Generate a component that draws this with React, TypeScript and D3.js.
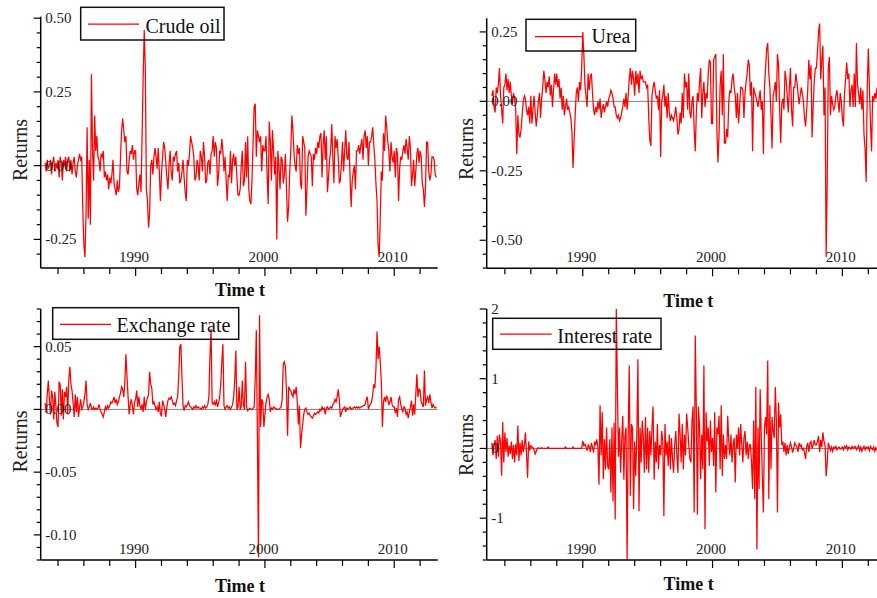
import React from 'react';
import * as d3 from 'd3';

// Monthly returns, January 1983 onwards (one row per year)
const crudeOil = [
  0.01, -0.02, 0.02, -0.01, 0.0, 0.02, -0.03, 0.01, 0.03, -0.02, 0.01, -0.01,
  0.02, -0.04, 0.03, 0.01, -0.05, 0.02, 0.0, 0.03, -0.02, 0.02, 0.03, -0.02,
  0.02, -0.03, 0.01, 0.03, -0.02, -0.04, 0.0, 0.02, 0.04, 0.02, 0.03, -0.15,
  -0.27, -0.31, -0.16, 0.13, -0.18, 0.02, -0.2, 0.31, 0.06, -0.05, 0.17, 0.05,
  0.10, 0.03, 0.02, -0.02, 0.04, 0.03, 0.05, -0.04, -0.02, -0.05, -0.03, -0.08,
  -0.04, -0.06, -0.03, 0.02, -0.06, -0.08, -0.1, -0.05, -0.09, -0.07, 0.03, 0.12,
  0.16, 0.12, 0.08, 0.1, -0.02, -0.03, 0.02, 0.05, 0.04, 0.07, 0.02, 0.05,
  0.05, -0.08, -0.1, -0.06, -0.03, -0.09, 0.1, 0.30, 0.46, 0.33, -0.08, -0.12,
  -0.21, -0.16, 0.0, 0.02, -0.03, 0.03, 0.06, 0.03, -0.01, 0.06, -0.02, -0.12,
  -0.03, 0.03, 0.08, 0.06, 0.01, -0.04, -0.08, 0.0, 0.05, -0.02, -0.05, 0.03,
  0.02, 0.04, 0.05, -0.02, 0.01, -0.06, -0.05, -0.02, 0.02, -0.04, -0.09, -0.12,
  0.02, 0.0, 0.04, 0.1, 0.08, 0.06, 0.03, -0.05, -0.04, 0.02, 0.0, -0.05,
  0.05, 0.03, -0.02, 0.08, 0.03, -0.06, -0.05, 0.01, 0.02, -0.03, 0.04, 0.05,
  0.1, 0.03, 0.08, 0.06, -0.07, -0.03, 0.05, 0.04, 0.09, 0.05, -0.02, 0.03,
  -0.05, -0.12, -0.03, -0.04, 0.05, -0.06, 0.02, 0.04, 0.0, 0.03, -0.04, -0.1,
  -0.1, -0.08, 0.0, 0.05, -0.07, -0.05, 0.08, -0.04, 0.1, -0.08, -0.12, -0.13,
  -0.05, 0.08, 0.2, 0.21, 0.03, 0.12, 0.1, 0.08, 0.1, -0.02, 0.07, 0.05,
  0.05, 0.1, -0.03, -0.13, 0.15, 0.08, -0.05, 0.12, 0.05, -0.03, 0.03, -0.25,
  0.05, 0.0, -0.08, 0.03, 0.02, -0.06, -0.03, 0.04, -0.08, -0.19, -0.14, -0.02,
  0.05, 0.17, 0.12, 0.04, 0.0, -0.02, 0.07, 0.04, 0.06, -0.06, -0.08, 0.1,
  0.08, 0.06, -0.17, -0.08, 0.03, 0.05, 0.04, 0.03, -0.07, 0.04, 0.02, 0.06,
  0.04, 0.08, 0.06, 0.1, 0.11, -0.04, 0.07, 0.12, 0.02, 0.1, -0.09, -0.04,
  0.02, 0.05, 0.14, 0.03, -0.06, 0.1, 0.06, 0.09, 0.03, -0.06, -0.05, 0.01,
  0.08, -0.02, 0.05, 0.12, 0.03, 0.02, 0.08, -0.04, -0.14, -0.05, -0.02, 0.0,
  -0.08, 0.05, 0.05, 0.07, 0.04, 0.07, 0.09, 0.02, 0.1, 0.12, 0.06, 0.1,
  0.0, 0.08, 0.08, 0.1, 0.13, 0.07, 0.02, -0.06, -0.12, -0.27, -0.31, -0.18,
  -0.02, -0.05, 0.11, 0.05, 0.17, 0.13, 0.08, 0.05, -0.02, 0.08, 0.03, 0.01,
  0.05, -0.04, 0.06, 0.04, -0.12, -0.01, 0.03, 0.02, 0.05, 0.07, 0.04, 0.09,
  0.06, 0.02, 0.1, 0.06, -0.07, -0.03, 0.02, -0.07, -0.02, 0.04, 0.06, 0.01,
  0.05, 0.03, -0.06, -0.08, -0.14, -0.07, 0.08, 0.08, -0.02, -0.05, -0.03, 0.03,
  0.03, 0.02, -0.03, -0.04,
];

const urea = [
  0.02, 0.04, -0.02, -0.04, 0.05, 0.03, 0.06, 0.12, 0.02, -0.03, -0.08, 0.05,
  0.06, 0.1, 0.04, 0.08, 0.03, 0.07, 0.02, -0.01, 0.03, 0.01, -0.03, -0.19,
  -0.05, -0.12, -0.13, -0.1, -0.05, 0.0, 0.02, 0.01, -0.03, -0.05, -0.02, -0.08,
  0.02, -0.08, -0.03, 0.02, -0.04, -0.09, -0.05, 0.0, 0.03, -0.06, 0.01, 0.05,
  0.11, 0.08, 0.03, 0.07, 0.05, 0.09, 0.02, 0.06, -0.02, 0.04, 0.1, 0.06,
  0.1, 0.05, 0.08, 0.01, 0.05, -0.03, 0.02, -0.05, -0.02, 0.01, -0.03, -0.02,
  -0.04, -0.06, -0.11, -0.24, -0.14, -0.05, 0.03, 0.05, 0.0, 0.07, 0.04, 0.12,
  0.25, 0.17, 0.06, 0.02, -0.02, 0.1, 0.04, 0.09, 0.1, 0.03, -0.03, -0.05,
  -0.02, -0.04, 0.0, -0.03, 0.01, -0.06, -0.03, -0.01, -0.04, -0.02, 0.0, -0.02,
  0.01, 0.02, 0.04, 0.03, 0.01, -0.02, -0.02, -0.05, -0.06, -0.05, -0.07, -0.06,
  -0.04, -0.02, 0.01, -0.02, 0.03, -0.03, 0.02, 0.08, 0.12, 0.06, 0.11, 0.08,
  0.02, 0.11, 0.06, 0.1, 0.03, 0.11, 0.08, 0.09, 0.07, 0.07, 0.07, 0.05,
  0.06, -0.06, -0.14, -0.16, 0.02, 0.05, 0.07, 0.04, 0.01, 0.02, -0.03, 0.04,
  -0.2, 0.0, 0.02, 0.06, -0.02, 0.02, -0.06, 0.03, -0.04, -0.07, -0.05, -0.06,
  -0.07, -0.05, -0.02, -0.06, -0.12, -0.1, -0.04, -0.08, 0.03, -0.06, 0.1, 0.05,
  0.07, -0.03, 0.1, -0.04, -0.06, 0.0, 0.02, -0.1, -0.18, -0.04, 0.03, 0.0,
  0.07, 0.12, -0.06, 0.03, 0.07, -0.02, 0.03, 0.01, 0.1, 0.15, 0.14, -0.08,
  -0.08, 0.15, 0.16, 0.17, -0.1, -0.22, -0.12, 0.06, 0.11, -0.05, 0.17, -0.15,
  -0.15, -0.1, -0.13, 0.0, 0.04, 0.03, 0.08, 0.1, 0.05, 0.02, -0.06, 0.03,
  -0.08, -0.02, 0.05, 0.05, 0.04, -0.06, 0.03, 0.07, 0.1, 0.15, 0.13, 0.02,
  0.07, -0.18, 0.05, 0.03, 0.02, 0.0, -0.02, 0.01, 0.04, -0.03, 0.0, -0.19,
  0.05, 0.12, 0.19, 0.21, 0.1, 0.05, -0.05, -0.17, 0.02, 0.04, 0.07, 0.0,
  0.17, 0.13, -0.03, -0.15, -0.01, 0.01, -0.03, 0.11, 0.08, 0.02, -0.04, 0.05,
  0.12, -0.03, -0.09, 0.05, 0.05, 0.1, 0.07, 0.03, -0.01, 0.02, 0.05, 0.03,
  0.0, -0.06, -0.09, -0.03, 0.04, 0.15, 0.08, 0.13, -0.13, -0.02, 0.07, 0.12,
  0.12, 0.18, 0.25, 0.28, 0.08, 0.15, 0.2, -0.05, 0.05, -0.56, -0.29, 0.12,
  0.16, -0.05, 0.02, -0.01, -0.03, -0.02, 0.02, 0.04, 0.0, -0.04, 0.03, 0.0,
  -0.06, -0.09, 0.03, 0.08, 0.14, 0.08, 0.1, -0.02, 0.04, 0.06, -0.02, 0.1,
  -0.02, 0.21, 0.06, 0.03, -0.01, 0.05, -0.03, 0.04, -0.12, -0.17, -0.29, 0.05,
  0.19, 0.05, -0.08, -0.18, 0.02, 0.0, 0.03, 0.01, 0.05, -0.02, 0.04, 0.02,
  0.01, -0.03, 0.02, 0.0,
];

const exchangeRate = [
  0.005, -0.003, 0.012, 0.023, 0.008, -0.004, 0.015, 0.01, -0.008, 0.014, 0.003, -0.011,
  -0.014, 0.022, 0.02, -0.005, 0.016, -0.008, 0.014, 0.01, 0.018, -0.004, 0.024, 0.034,
  0.02, 0.015, 0.005, -0.006, 0.012, -0.002, 0.01, -0.006, 0.002, 0.008, 0.0, 0.002,
  0.006, 0.012, 0.023, 0.004, 0.0, 0.002, 0.005, 0.001, 0.0, 0.002, 0.0, 0.001,
  0.0, 0.001, 0.004, 0.0, -0.002, -0.004, -0.006, -0.002, 0.002, 0.0, 0.003, 0.001,
  0.003, 0.006, 0.005, 0.007, 0.01, 0.005, 0.008, 0.004, 0.006, 0.01, 0.013, 0.018,
  0.016, 0.01, 0.022, 0.044, 0.026, 0.01, -0.004, 0.004, 0.008, 0.003, -0.004, 0.006,
  0.008, 0.015, 0.002, 0.01, 0.003, 0.0, 0.004, -0.002, 0.01, 0.0, 0.006, 0.009,
  0.012, 0.03, 0.02, 0.017, 0.004, 0.006, 0.003, 0.0, 0.002, -0.002, 0.006, -0.004,
  -0.005, 0.007, 0.004, 0.0, -0.006, 0.002, 0.007, 0.009, 0.008, 0.01, 0.007, 0.004,
  0.005, 0.003, 0.007, 0.01, 0.026, 0.05, 0.052, 0.026, 0.003, -0.001, 0.003, 0.002,
  0.004, 0.006, 0.003, 0.002, 0.001, 0.0, 0.002, 0.001, 0.003, 0.001, 0.002, 0.001,
  0.001, 0.0, 0.002, 0.001, 0.003, 0.001, 0.002, 0.004, 0.01, 0.043, 0.064, 0.005,
  0.004, 0.006, 0.003, 0.008, 0.002, 0.005, 0.01, 0.02, 0.038, 0.052, 0.003, 0.0,
  0.002, 0.003, 0.001, 0.002, 0.0, 0.002, 0.004, 0.01, 0.024, 0.047, 0.0, 0.002,
  0.018, 0.0, 0.002, 0.023, 0.004, 0.0, 0.038, 0.002, -0.001, 0.0, 0.001, 0.0,
  0.0, 0.001, 0.002, 0.025, 0.063, -0.02, -0.118, 0.075, -0.014, 0.008, 0.006, -0.014,
  -0.004, 0.005, 0.01, 0.012, 0.008, -0.002, 0.001, 0.0, 0.002, 0.001, 0.001, 0.0,
  0.0, 0.0, 0.001, 0.002, 0.008, 0.036, 0.038, 0.034, 0.015, -0.021, 0.018, 0.016,
  0.015, 0.012, 0.01, 0.016, 0.012, 0.018, 0.006, -0.012, 0.003, -0.031, -0.02, -0.012,
  -0.004, 0.0, 0.001, -0.002, -0.004, -0.003, -0.005, -0.006, -0.007, -0.005, -0.003, -0.004,
  -0.003, -0.002, -0.003, 0.0, -0.001, 0.002, 0.0, 0.001, -0.004, 0.001, 0.002, 0.0,
  0.001, 0.002, 0.001, 0.004, 0.005, 0.008, 0.006, 0.01, 0.016, 0.008, -0.006, -0.003,
  0.0, 0.001, 0.002, -0.002, 0.001, 0.0, 0.001, 0.002, 0.0, 0.001, 0.001, 0.002,
  0.001, 0.002, 0.001, 0.002, 0.001, 0.002, 0.002, 0.003, 0.003, 0.004, 0.008, 0.01,
  0.0, 0.003, 0.004, 0.006, 0.012, 0.02, 0.017, 0.032, 0.062, 0.04, 0.05, 0.038,
  0.022, -0.014, 0.006, 0.01, 0.006, 0.011, 0.008, 0.004, 0.006, 0.01, 0.004, 0.002,
  0.002, -0.003, 0.001, -0.006, 0.008, 0.01, 0.004, 0.0, -0.002, 0.002, 0.001, -0.004,
  -0.002, -0.007, -0.002, 0.002, 0.007, -0.005, 0.004, -0.004, 0.012, 0.028, 0.01, 0.016,
  0.015, 0.006, 0.004, 0.002, 0.031, 0.003, 0.008, 0.01, 0.005, 0.012, 0.006, 0.001,
  0.004, 0.002, 0.001, 0.002,
];

const interestRate = [
  0.08, -0.1, 0.05, 0.12, -0.15, 0.18, -0.12, 0.2, 0.1, -0.39, 0.38, -0.2,
  0.23, -0.05, 0.15, -0.12, 0.04, -0.08, 0.1, -0.15, 0.05, -0.2, 0.06, -0.1,
  0.33, -0.18, 0.08, -0.1, 0.12, -0.05, 0.03, 0.23, -0.08, -0.42, 0.1, -0.03,
  0.04, 0.02, 0.01, -0.02, -0.08, -0.04, 0.0, 0.01, 0.0, 0.0, 0.01, 0.0,
  0, 0, 0, 0, 0.02, 0, 0, 0, 0, 0, 0, 0,
  0, 0, 0, 0, 0, 0, 0, 0, 0.02, 0, 0, 0,
  0, 0, 0, 0.02, 0, 0, 0, 0, 0, 0, 0, 0,
  0.11, 0.04, 0.06, 0.02, -0.03, 0.05, 0.03, -0.05, 0.08, 0.02, -0.06, 0.1,
  0.05, 0.13, 0.02, -0.52, 0.62, -0.1, 0.52, -0.44, 0.13, -0.3, 0.3, -0.25,
  -0.3, 0.13, -0.63, 0.3, -0.76, 0.37, -1.02, 2.0, 0.9, -0.12, 0.3, -0.35,
  0.1, 0.47, -0.45, 0.18, 0.3, -1.62, 0.2, 1.19, -0.68, 0.35, 0.3, -0.87,
  0.1, -0.4, 0.2, 1.28, -0.9, 0.3, -0.2, 0.4, 0.15, -0.35, 0.45, -0.3,
  0.3, -0.35, 0.25, -0.1, 0.3, 0.6, -0.45, 0.1, -0.2, 0.35, -0.3, 0.05,
  -0.1, 0.25, 0.1, -0.97, 0.35, -0.1, 0.1, -0.25, 0.2, -0.3, 0.15, -0.15,
  -0.35, 0.05, 0.25, -0.1, -0.35, 0.5, 0.2, -0.2, 0.35, -0.3, 0.2, -0.1,
  0.5, 0.3, 0.05, -0.15, -0.2, 0.4, 0.6, -0.92, 1.62, 0.55, -0.95, 0.6,
  0.3, -0.44, 0.2, -0.3, 1.19, -1.16, 0.52, 0.1, 0.3, -0.25, 0.4, -0.05,
  0.15, -0.25, 0.52, -0.63, 0.3, 0.2, 0.47, -0.3, 0.62, -0.4, 0.2, -0.15,
  0.05, -0.15, 0.47, 0.1, -0.1, 0.2, -0.2, 0.05, 0.15, -0.49, 0.2, 0.0,
  0.3, -0.1, 0.35, 0.05, -0.2, 0.15, 0.25, -0.1, 0.1, -0.15, 0.05, 0.05,
  -0.2, -0.58, 0.4, -0.73, 0.88, -1.45, 0.3, -0.58, 0.85, 0.2, -0.4, -0.92,
  0.3, 0.45, 0.2, 1.26, -0.73, 0.62, -0.3, 0.45, 0.25, 0.15, 0.88, 0.4,
  -0.92, 0.66, 0.3, 0.49, 0.05, 0.1, -0.05, 0.08, -0.1, 0.05, -0.08, 0.02,
  0.08, 0.02, -0.06, 0.0, 0.08, 0.05, 0.02, -0.05, 0.08, 0.03, 0.05, -0.02,
  0.0, -0.06, -0.15, 0.03, 0.08, -0.05, 0.07, 0.1, 0.0, 0.05, 0.12, 0.05,
  0.05, 0.1, 0.18, -0.05, 0.12, 0.02, 0.23, 0.1, 0.05, -0.4, -0.2, 0.08,
  0.03, -0.03, 0.02, -0.04, 0.02, 0.0, 0.03, -0.02, 0.01, 0.02, -0.01, 0.0,
  0.02, -0.02, 0.03, 0.01, 0.04, -0.02, 0.02, 0.01, -0.01, 0.03, 0.0, 0.02,
  0.03, -0.02, 0.01, 0.04, -0.03, 0.02, -0.04, 0.01, 0.03, -0.02, 0.02, 0.0,
  0.02, -0.03, 0.03, 0.0, -0.02, 0.02, -0.04, 0.01, -0.02, 0.0, -0.03, -0.05,
  -0.02, -0.04, -0.05, -0.06,
];

const startYear = 1983;
const yearTickValues = [1984, 1986, 1988, 1990, 1992, 1994, 1996, 1998, 2000, 2002, 2004, 2006, 2008, 2010, 2012];
const yearLabels = [1990, 2000, 2010];
const xAxisTitle = 'Time t';
const yAxisTitle = 'Returns';

const crudeTicks = [-0.25, 0, 0.25, 0.5];
const ureaTicks = [-0.5, -0.25, 0, 0.25];
const exchangeTicks = [-0.1, -0.05, 0, 0.05];
const interestTicks = [-1, 0, 1, 2];

const FONT = '"Liberation Serif", "Times New Roman", Times, serif';

type Panel = {
  id: string;
  name: string;
  data: number[];
  left: number; right: number; top: number; bottom: number;
  xDomain: [number, number];
  yDomain: [number, number];
  minor: number;
  labels: number[];
  fmt: (v: number) => string;
  legend: { x: number; y: number; w: number; h: number; lineY: number; x1: number; x2: number; textX: number; textY: number };
  retX: number; retY: number; timeX: number; timeY: number;
};

const fmt2 = (v: number) => (v === 0 ? '0.00' : v.toFixed(2));
const fmt0 = (v: number) => String(v);

const panels: Panel[] = [
  {
    id: 'p1', name: 'Crude oil', data: crudeOil,
    left: 40.7, right: 437.7, top: 16.7, bottom: 268,
    xDomain: [1982.66, 2013.36], yDomain: [-0.347, 0.505], minor: 0.05,
    labels: crudeTicks, fmt: fmt2,
    legend: { x: 80.7, y: 7.3, w: 143.3, h: 32.7, lineY: 24, x1: 88, x2: 139, textX: 145.5, textY: 33 },
    retX: 26.5, retY: 150, timeX: 240, timeY: 296,
  },
  {
    id: 'p2', name: 'Urea', data: urea,
    left: 486.7, right: 886.5, top: 18.3, bottom: 268.3,
    xDomain: [1982.6, 2013.4], yDomain: [-0.601, 0.299], minor: 0.05,
    labels: ureaTicks, fmt: fmt2,
    legend: { x: 526, y: 19.3, w: 109.7, h: 31.7, lineY: 36.7, x1: 535, x2: 583.3, textX: 591.5, textY: 43.3 },
    retX: 473, retY: 149, timeX: 688.3, timeY: 306.5,
  },
  {
    id: 'p3', name: 'Exchange rate', data: exchangeRate,
    left: 40.7, right: 437.7, top: 309, bottom: 560,
    xDomain: [1982.66, 2013.36], yDomain: [-0.12, 0.08], minor: 0.01,
    labels: exchangeTicks, fmt: fmt2,
    legend: { x: 52.7, y: 307.7, w: 186, h: 31.6, lineY: 324.3, x1: 60, x2: 111, textX: 116.5, textY: 331.5 },
    retX: 26.5, retY: 441.5, timeX: 240, timeY: 591.5,
  },
  {
    id: 'p4', name: 'Interest rate', data: interestRate,
    left: 486.7, right: 886.5, top: 309, bottom: 560,
    xDomain: [1982.6, 2013.4], yDomain: [-1.6, 2.0], minor: 0.2,
    labels: interestTicks, fmt: fmt0,
    legend: { x: 492.7, y: 318.3, w: 168.3, h: 31, lineY: 334, x1: 500, x2: 551.7, textX: 557.3, textY: 343.3 },
    retX: 472.5, retY: 445, timeX: 688.7, timeY: 590,
  },
];

function PanelView({ p }: { p: Panel }) {
  const x = d3.scaleLinear().domain(p.xDomain).range([p.left, p.right]);
  const y = d3.scaleLinear().domain(p.yDomain).range([p.bottom, p.top]);
  const pts = p.data.map((v, i) => [startYear + i / 12, v] as [number, number]);
  const line = d3.line<[number, number]>().x((d) => x(d[0])).y((d) => y(d[1]));
  const kMin = Math.ceil(p.yDomain[0] / p.minor - 1e-6);
  const kMax = Math.floor(p.yDomain[1] / p.minor + 1e-6);
  const minorTicks = d3.range(kMin, kMax + 1).map((k) => k * p.minor);
  const isMajor = (v: number) => p.labels.some((l) => Math.abs(l - v) < p.minor / 10);
  return (
    <g>
      <defs>
        <clipPath id={`clip-${p.id}`}>
          <rect x={p.left} y={p.top} width={p.right - p.left} height={p.bottom - p.top} />
        </clipPath>
      </defs>
      <line x1={p.left} x2={p.right} y1={y(0)} y2={y(0)} stroke="#808080" strokeWidth={1} />
      <path d={line(pts) || ''} fill="none" stroke="#ff0000" strokeWidth={1.25} strokeLinejoin="miter" clipPath={`url(#clip-${p.id})`} />
      {/* y axis */}
      <line x1={p.left} x2={p.left} y1={p.top} y2={p.bottom} stroke="#000" strokeWidth={1.5} />
      {minorTicks.map((v, i) => (
        <line key={i} x1={p.left - (isMajor(v) ? 7 : 4)} x2={p.left} y1={y(v)} y2={y(v)} stroke="#000" strokeWidth={1.2} />
      ))}
      {p.labels.map((v) => (
        <text key={v} x={p.left + 4.5} y={y(v) + 5} fontSize={15} fontFamily={FONT} fill="#222">{p.fmt(v)}</text>
      ))}
      {/* x axis */}
      <line x1={p.left} x2={p.right} y1={p.bottom} y2={p.bottom} stroke="#000" strokeWidth={1.5} />
      {yearTickValues.map((t) => (
        <line key={t} x1={x(t)} x2={x(t)} y1={p.bottom} y2={p.bottom + (yearLabels.includes(t) ? 8 : 6)} stroke="#000" strokeWidth={1.2} />
      ))}
      {yearLabels.map((t) => (
        <text key={t} x={x(t) - 1.5} y={p.bottom - 6.5} fontSize={15} fontFamily={FONT} textAnchor="middle" fill="#222">{t}</text>
      ))}
      {/* legend */}
      <rect x={p.legend.x} y={p.legend.y} width={p.legend.w} height={p.legend.h} fill="none" stroke="#111" strokeWidth={1.5} />
      <line x1={p.legend.x1} x2={p.legend.x2} y1={p.legend.lineY} y2={p.legend.lineY} stroke="#ff0000" strokeWidth={1.25} />
      <text x={p.legend.textX} y={p.legend.textY} fontSize={20} fontFamily={FONT} fill="#111">{p.name}</text>
      {/* titles */}
      <text transform={`translate(${p.retX},${p.retY}) rotate(-90)`} textAnchor="middle" fontSize={20} fontFamily={FONT} fill="#222">{yAxisTitle}</text>
      <text x={p.timeX} y={p.timeY} textAnchor="middle" fontSize={18} fontWeight="bold" fontFamily={FONT} fill="#111">{xAxisTitle}</text>
    </g>
  );
}

export default function App() {
  return (
    <svg
      width={877}
      height={598}
      style={{ position: 'absolute', left: 0, top: 0, background: '#fff' }}
    >
      <rect x={0} y={0} width={877} height={598} fill="#fff" />
      {panels.map((p) => (
        <PanelView key={p.id} p={p} />
      ))}
    </svg>
  );
}
